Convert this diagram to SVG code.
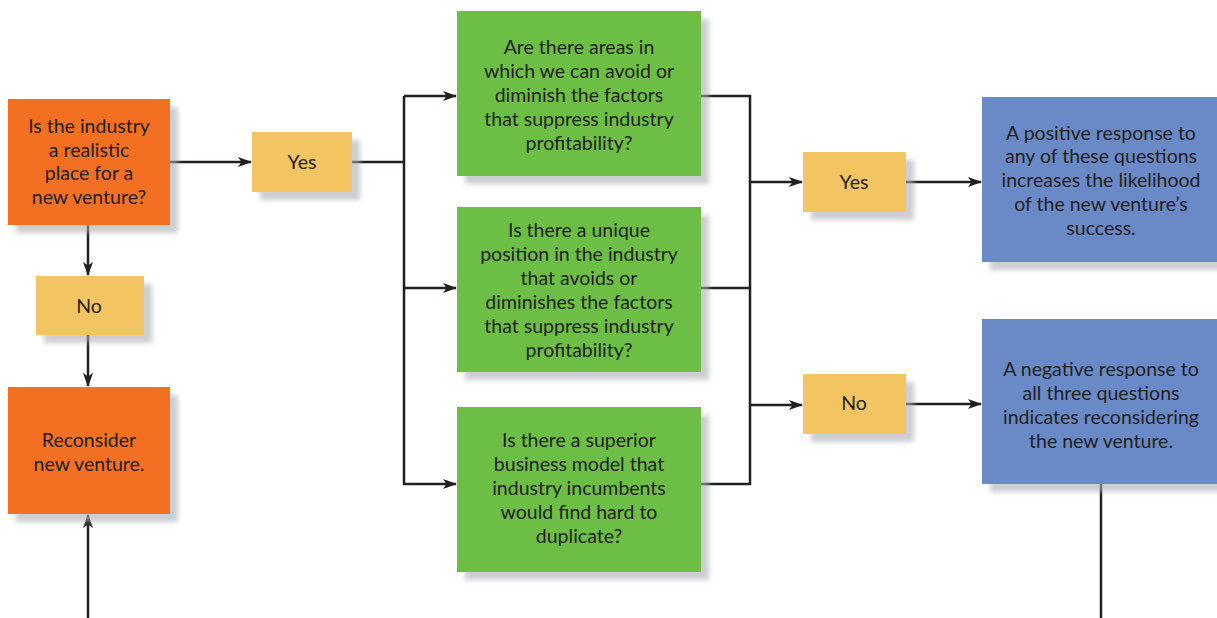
<svg xmlns="http://www.w3.org/2000/svg" width="1217" height="618" viewBox="0 0 1217 618">
<defs>
<filter id="sh" x="-10%" y="-10%" width="130%" height="130%">
<feDropShadow dx="8" dy="8" stdDeviation="2.5" flood-color="#a9adb3" flood-opacity="0.6"/>
</filter>
<marker id="ar" viewBox="0 0 14 10" refX="13" refY="5" markerWidth="14" markerHeight="10" markerUnits="userSpaceOnUse" orient="auto">
<path d="M0,0 L14,5 L0,10 L3.5,5 Z" fill="#231f20"/>
</marker>
</defs>
<style>
.o{fill:#f37021}
.y{fill:#f2c462}
.g{fill:#6dbe45}
.b{fill:#6b8ac7}
rect{filter:url(#sh)}
text{font-family:Lato,"Open Sans","Liberation Sans",sans-serif;font-size:19.5px;fill:#231f20;text-anchor:middle}
.c path{fill:none;stroke:#231f20;stroke-width:2.5}
.a{marker-end:url(#ar)}
</style>
<rect width="1217" height="618" fill="#ffffff" style="filter:none"/>
<g class="c" id="connectors">
<path class="a" d="M170,162 H251"/>
<path class="a" d="M88,225 V275"/>
<path class="a" d="M88,335 V386"/>
<path class="a" d="M88,618 V515"/>
<path d="M352,162 H404"/>
<path class="a" d="M404,96 H456"/>
<path class="a" d="M404,288 H456"/>
<path class="a" d="M404,96 V484 H456"/>
<path d="M701,96 H750 V484 H701"/>
<path d="M701,288 H750"/>
<path class="a" d="M750,182 H802"/>
<path class="a" d="M750,405 H802"/>
<path class="a" d="M906,182 H981"/>
<path class="a" d="M906,404 H981"/>
<path d="M1101,484 V618"/>
</g>
<g id="q1"><rect class="o" x="8" y="99" width="162" height="126"/>
<text x="89" y="133">Is the industry</text><text x="89" y="157">a realistic</text><text x="89" y="180">place for a</text><text x="89" y="204">new venture?</text></g>
<g id="yes1"><rect class="y" x="252" y="132" width="100" height="60"/><text x="302" y="169">Yes</text></g>
<g id="no1"><rect class="y" x="36" y="276" width="108" height="59"/><text x="89" y="313">No</text></g>
<g id="reconsider"><rect class="o" x="8" y="387" width="162" height="127"/>
<text x="89" y="447">Reconsider</text><text x="89" y="471">new venture.</text></g>
<g id="g1"><rect class="g" x="457" y="11" width="244" height="165"/>
<text x="579" y="54">Are there areas in</text><text x="579" y="78">which we can avoid or</text><text x="579" y="102">diminish the factors</text><text x="579" y="126">that suppress industry</text><text x="579" y="150">profitability?</text></g>
<g id="g2"><rect class="g" x="457" y="207" width="244" height="165"/>
<text x="579" y="237">Is there a unique</text><text x="579" y="261">position in the industry</text><text x="579" y="285">that avoids or</text><text x="579" y="309">diminishes the factors</text><text x="579" y="333">that suppress industry</text><text x="579" y="357">profitability?</text></g>
<g id="g3"><rect class="g" x="457" y="407" width="244" height="165"/>
<text x="579" y="447">Is there a superior</text><text x="579" y="471">business model that</text><text x="579" y="495">industry incumbents</text><text x="579" y="519">would find hard to</text><text x="579" y="543">duplicate?</text></g>
<g id="yes2"><rect class="y" x="803" y="152" width="103" height="60"/><text x="854" y="189">Yes</text></g>
<g id="no2"><rect class="y" x="803" y="374" width="103" height="60"/><text x="854" y="410">No</text></g>
<g id="pos"><rect class="b" x="982" y="97" width="240" height="165"/>
<text x="1101" y="140">A positive response to</text><text x="1101" y="163">any of these questions</text><text x="1101" y="187">increases the likelihood</text><text x="1101" y="211">of the new venture’s</text><text x="1101" y="235">success.</text></g>
<g id="neg"><rect class="b" x="982" y="319" width="240" height="165"/>
<text x="1101" y="376">A negative response to</text><text x="1101" y="400">all three questions</text><text x="1101" y="424">indicates reconsidering</text><text x="1101" y="448">the new venture.</text></g>
</svg>
